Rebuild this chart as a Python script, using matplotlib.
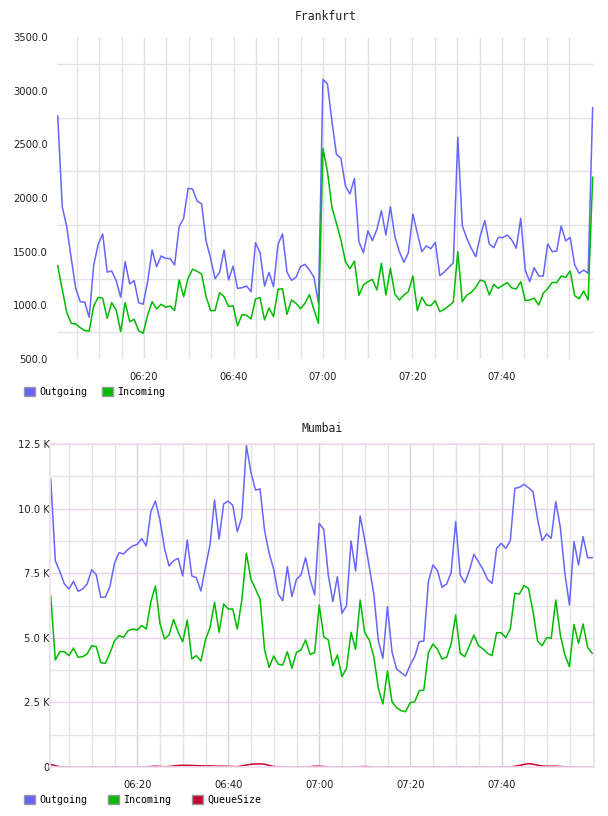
import numpy as np
import matplotlib
matplotlib.use('Agg')
import matplotlib.pyplot as plt
from matplotlib.patches import Patch
from matplotlib.ticker import FixedLocator

# colours of the three series
C_OUT = '#6666ff'
C_IN = '#00bb00'
C_QUEUE = '#cc0033'

# ---- Frankfurt (one sample per minute, minutes after 06:00) ----
fra_out = [2764, 1919, 1733, 1438, 1158, 1034, 1030, 888, 1376, 1568,
           1665, 1310, 1320, 1230, 1075, 1407, 1199, 1230, 1025, 1010,
           1220, 1516, 1360, 1460, 1438, 1435, 1376, 1733, 1810, 2090,
           2083, 1972, 1945, 1600, 1438, 1248, 1307, 1516, 1236, 1366,
           1158, 1164, 1180, 1127, 1584, 1491, 1180, 1307, 1174, 1568,
           1665, 1310, 1233, 1261, 1360, 1382, 1329, 1261, 1019, 3106,
           3062, 2711, 2407, 2370, 2112, 2037, 2183, 1593, 1490, 1693,
           1603, 1708, 1882, 1655, 1919, 1640, 1500, 1401, 1490, 1851,
           1671, 1500, 1553, 1528, 1587, 1276, 1310, 1354, 1397, 2565,
           1742, 1624, 1531, 1453, 1646, 1789, 1572, 1537, 1634, 1631,
           1655, 1609, 1531, 1810, 1329, 1220, 1351, 1273, 1273, 1572,
           1500, 1506, 1739, 1600, 1634, 1376, 1298, 1329, 1298, 2842]
fra_in = [1369, 1149, 935, 832, 826, 792, 764, 761, 994, 1075,
          1066, 879, 1025, 957, 755, 1025, 848, 870, 764, 739,
          910, 1034, 966, 1010, 982, 994, 951, 1236, 1081, 1252,
          1338, 1317, 1292, 1081, 951, 951, 1118, 1081, 988, 997,
          810, 913, 907, 873, 1060, 1072, 864, 975, 895, 1149,
          1155, 916, 1050, 1019, 969, 1019, 1100, 957, 832, 2463,
          2245, 1910, 1764, 1609, 1407, 1341, 1413, 1093, 1190, 1220,
          1242, 1143, 1391, 1096, 1345, 1103, 1050, 1096, 1128, 1273,
          951, 1075, 1003, 997, 1044, 941, 963, 994, 1031, 1500,
          1034, 1096, 1121, 1168, 1236, 1220, 1096, 1196, 1159, 1187,
          1211, 1162, 1152, 1220, 1044, 1050, 1066, 1003, 1112, 1155,
          1214, 1211, 1273, 1261, 1320, 1090, 1060, 1134, 1050, 2193]

# ---- Mumbai ----
mum_out = [11134, 7985, 7559, 7082, 6889, 7185, 6799, 6889, 7082, 7637,
           7443, 6566, 6579, 6979, 7881, 8295, 8243, 8424, 8553, 8617,
           8837, 8553, 9881, 10294, 9559, 8462, 7779, 7985, 8075, 7392,
           8785, 7392, 7327, 6811, 7727, 8591, 10333, 8824, 10178, 10294,
           10126, 9106, 9663, 12434, 11404, 10720, 10759, 9145, 8270, 7650,
           6695, 6436, 7752, 6591, 7263, 7431, 8101, 7263, 6656, 9430,
           9198, 7430, 6398, 7366, 5947, 6243, 8746, 7585, 9714, 8798,
           7752, 6695, 4889, 4205, 6205, 4464, 3793, 3651, 3522, 3947,
           4270, 4850, 4876, 7172, 7817, 7598, 6953, 7082, 7521, 9494,
           7430, 7133, 7598, 8230, 7947, 7650, 7263, 7108, 8462, 8656,
           8462, 8759, 10785, 10823, 10939, 10810, 10656, 9585, 8759, 9017,
           8849, 10269, 9275, 7495, 6269, 8720, 7817, 8914, 8101, 8101]
mum_in = [6618, 4141, 4464, 4464, 4309, 4605, 4244, 4270, 4373, 4696,
          4657, 4038, 4012, 4399, 4876, 5083, 5018, 5276, 5341, 5302,
          5470, 5341, 6398, 7005, 5560, 4954, 5108, 5714, 5211, 4850,
          5688, 4180, 4309, 4102, 4915, 5392, 6372, 5211, 6308, 6115,
          6115, 5341, 6463, 8270, 7263, 6889, 6502, 4528, 3857, 4296,
          3973, 3947, 4464, 3818, 4438, 4528, 4915, 4360, 4425, 6269,
          5044, 4915, 3909, 4334, 3496, 3818, 5211, 4554, 6463, 5199,
          4915, 4270, 3044, 2438, 3715, 2528, 2296, 2180, 2141, 2489,
          2528, 2954, 2980, 4425, 4760, 4554, 4180, 4244, 4760, 5882,
          4399, 4270, 4683, 5108, 4696, 4567, 4399, 4309, 5199, 5199,
          5005, 5341, 6721, 6695, 7017, 6914, 6011, 4876, 4696, 5005,
          4980, 6463, 5108, 4334, 3883, 5521, 4786, 5534, 4631, 4399]
mum_queue = [100, 50, 10, 0, 0, 0, 0, 0, 0, 0,
             0, 0, 0, 0, 0, 0, 0, 0, 0, 0,
             0, 10, 20, 30, 20, 10, 20, 40, 60, 65,
             65, 60, 50, 45, 40, 40, 35, 30, 30, 25,
             20, 15, 40, 80, 105, 115, 120, 110, 60, 20,
             10, 5, 0, 0, 0, 0, 0, 10, 30, 30,
             20, 0, 0, 0, 0, 0, 0, 0, 10, 20,
             10, 0, 0, 0, 0, 0, 0, 0, 0, 0,
             0, 0, 0, 0, 0, 0, 0, 0, 0, 0,
             0, 0, 0, 0, 0, 0, 0, 0, 0, 0,
             0, 0, 30, 60, 100, 130, 110, 70, 40, 30,
             30, 30, 20, 10, 0, 0, 0, 0, 0, 0]

# sample times (minutes after 06:00)
fra_t = np.linspace(0.7, 120.3, len(fra_out))
mum_t = np.linspace(1.0, 119.9, len(mum_out))

time_ticks = [20, 40, 60, 80, 100]
time_labels = ['06:20', '06:40', '07:00', '07:20', '07:40']
minor_times = [5, 10, 15, 25, 30, 35, 45, 50, 55, 65, 70, 75, 85, 90, 95, 105, 110, 115]

fra_yticks = [500, 1000, 1500, 2000, 2500, 3000, 3500]
fra_ygrid = [750, 1250, 1750, 2250, 2750, 3250]
mum_yticks = [0, 2500, 5000, 7500, 10000, 12500]
mum_ylabels = ['0', '2.5 K', '5.0 K', '7.5 K', '10.0 K', '12.5 K']
mum_yminor = [1250, 3750, 6250, 8750, 11250]

MONO = 'DejaVu Sans Mono'
SANS = 'DejaVu Sans'

fig = plt.figure(figsize=(6.08, 8.16), dpi=100)

# ---------------- Frankfurt ----------------
ax1 = fig.add_axes([57.3 / 608, 1 - 359 / 816, (594 - 57.3) / 608, (359 - 37) / 816])
ax1.plot(fra_t, fra_out, color=C_OUT, lw=1.1)
ax1.plot(fra_t, fra_in, color=C_IN, lw=1.1)
ax1.set_xlim(0.6, 120.6)
ax1.set_ylim(500, 3500)
for s in ax1.spines.values():
    s.set_visible(False)
ax1.set_xticks(time_ticks)
ax1.set_xticklabels(time_labels)
ax1.xaxis.set_minor_locator(FixedLocator(minor_times))
ax1.set_yticks(fra_yticks)
ax1.set_yticklabels(['%.1f' % v for v in fra_yticks])
ax1.yaxis.set_minor_locator(FixedLocator(fra_ygrid))
ax1.grid(True, which='major', axis='x', color='#e2e2e2', lw=1)
ax1.grid(True, which='minor', axis='both', color='#e2e2e2', lw=1)
ax1.tick_params(which='both', length=0)
ax1.tick_params(axis='y', pad=7, labelsize=7.2, labelcolor='#222222')
ax1.tick_params(axis='x', pad=9, labelsize=7.2, labelcolor='#222222')
for lab in ax1.get_xticklabels() + ax1.get_yticklabels():
    lab.set_family(SANS)
ax1.set_title('Frankfurt', family=MONO, fontsize=8.3, color='#222222', pad=12)
ax1.set_axisbelow(True)

h1 = [Patch(facecolor=C_OUT, edgecolor='#999999', lw=1),
      Patch(facecolor=C_IN, edgecolor='#999999', lw=1)]
fig.legend(h1, ['Outgoing', 'Incoming'], loc='center left',
           bbox_to_anchor=(24 / 608, 1 - 392 / 816), ncol=2, frameon=False,
           prop={'family': MONO, 'size': 7.2}, handlelength=1.05, handleheight=1.0,
           handletextpad=0.45, columnspacing=1.5, borderpad=0, borderaxespad=0)

# ---------------- Mumbai ----------------
ax2 = fig.add_axes([50.3 / 608, 1 - 767 / 816, (594 - 50.3) / 608, (767 - 444) / 816])
ax2.plot(mum_t, mum_out, color=C_OUT, lw=1.1)
ax2.plot(mum_t, mum_in, color=C_IN, lw=1.1)
ax2.plot(mum_t, mum_queue, color=C_QUEUE, lw=1.1)
ax2.set_xlim(0.9, 120.3)
ax2.set_ylim(0, 12500)
for s in ax2.spines.values():
    s.set_color('#ecdcec')
    s.set_linewidth(1.2)
ax2.set_xticks(time_ticks)
ax2.set_xticklabels(time_labels)
ax2.xaxis.set_minor_locator(FixedLocator(minor_times))
ax2.set_yticks(mum_yticks)
ax2.set_yticklabels(mum_ylabels)
ax2.yaxis.set_minor_locator(FixedLocator(mum_yminor))
ax2.grid(True, which='major', axis='y', color='#ead4ea', lw=1)
ax2.grid(True, which='major', axis='x', color='#dccfdc', lw=1)
ax2.grid(True, which='minor', axis='both', color='#e4e4e4', lw=1)
ax2.tick_params(which='both', length=0)
ax2.tick_params(axis='y', pad=0.5, labelsize=7.2, labelcolor='#222222')
ax2.tick_params(axis='x', pad=9, labelsize=7.2, labelcolor='#222222')
for lab in ax2.get_xticklabels() + ax2.get_yticklabels():
    lab.set_family(SANS)
ax2.set_title('Mumbai', family=MONO, fontsize=8.3, color='#222222', pad=9)
ax2.set_axisbelow(True)

h2 = [Patch(facecolor=C_OUT, edgecolor='#999999', lw=1),
      Patch(facecolor=C_IN, edgecolor='#999999', lw=1),
      Patch(facecolor=C_QUEUE, edgecolor='#999999', lw=1)]
fig.legend(h2, ['Outgoing', 'Incoming', 'QueueSize'], loc='center left',
           bbox_to_anchor=(24 / 608, 1 - 800 / 816), ncol=3, frameon=False,
           prop={'family': MONO, 'size': 7.2}, handlelength=1.05, handleheight=1.0,
           handletextpad=0.45, columnspacing=2.1, borderpad=0, borderaxespad=0)

fig.savefig('out.png', dpi=100)
